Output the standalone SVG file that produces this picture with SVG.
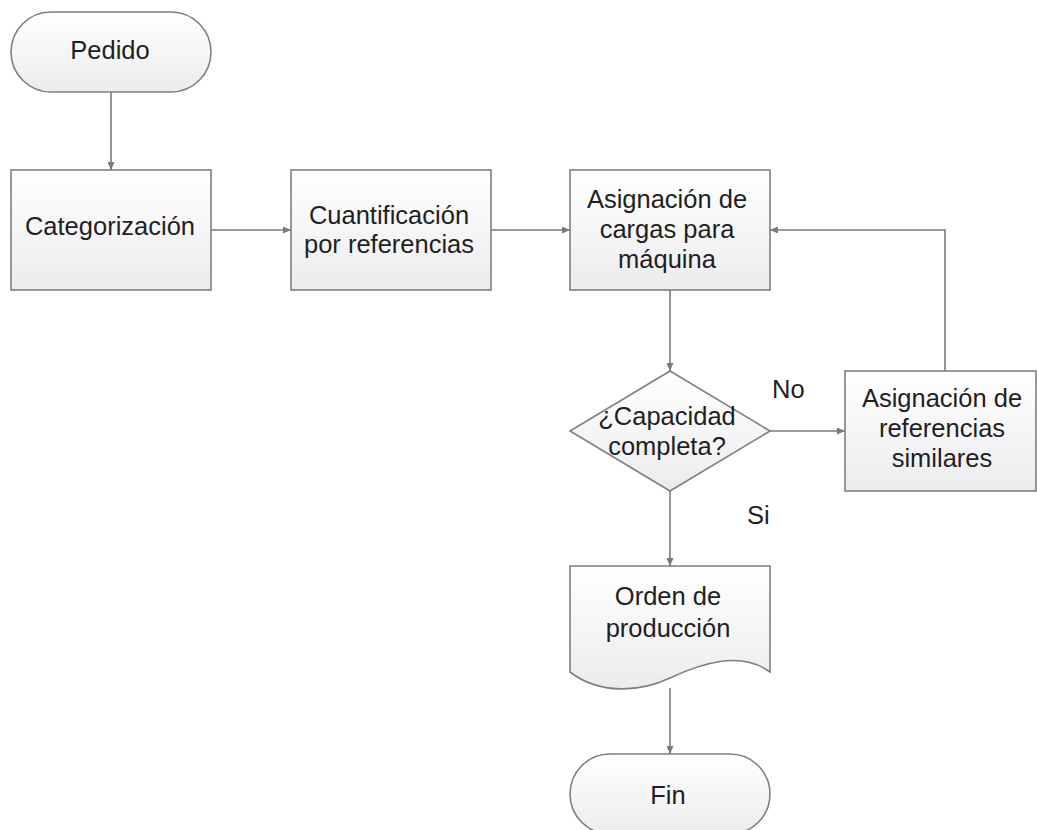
<svg xmlns="http://www.w3.org/2000/svg" width="1037" height="830" viewBox="0 0 1037 830">
  <defs>
    <linearGradient id="fillGrad" x1="0" y1="0" x2="0" y2="1">
      <stop offset="0" stop-color="#ffffff"/>
      <stop offset="1" stop-color="#ececef"/>
    </linearGradient>
    <marker id="arrow" viewBox="0 0 8 7" refX="8" refY="3.5" markerWidth="8" markerHeight="7" markerUnits="userSpaceOnUse" orient="auto">
      <path d="M0,0 L8,3.5 L0,7 Z" fill="#7a7a7a"/>
    </marker>
    <style>
      .shape { fill: url(#fillGrad); stroke: #7f7f7f; stroke-width: 1.6; }
      .label { font-family: "Liberation Sans", Arial, sans-serif; font-size: 25.5px; fill: #1f1f1f; text-anchor: middle; }
      .edge { fill: none; stroke: #7a7a7a; stroke-width: 1.6; marker-end: url(#arrow); }
      .edge-label { font-family: "Liberation Sans", Arial, sans-serif; font-size: 25.5px; fill: #1f1f1f; }
    </style>
  </defs>

  <rect width="1037" height="830" fill="#ffffff"/>

  <!-- connectors -->
  <g id="connectors">
    <path class="edge" d="M111,92 V170"/>
    <path class="edge" d="M211,230 H291"/>
    <path class="edge" d="M491,230 H570"/>
    <path class="edge" d="M670,290 V371"/>
    <path class="edge" d="M770,431 H845"/>
    <path class="edge" d="M945,371 V230 H770"/>
    <path class="edge" d="M670,491 V566"/>
    <path class="edge" d="M670,688 V754"/>
    <text class="edge-label" x="772" y="398">No</text>
    <text class="edge-label" x="747" y="524">Si</text>
  </g>

  <!-- start -->
  <g id="pedido">
    <rect class="shape" x="11" y="12" width="200" height="80" rx="40" ry="40"/>
    <text class="label" x="110" y="59">Pedido</text>
  </g>

  <g id="categorizacion">
    <rect class="shape" x="11" y="170" width="200" height="120"/>
    <text class="label" x="110" y="235">Categorización</text>
  </g>

  <g id="cuantificacion">
    <rect class="shape" x="291" y="170" width="200" height="120"/>
    <text class="label" x="389" y="224">Cuantificación</text>
    <text class="label" x="389" y="253">por referencias</text>
  </g>

  <g id="asignacion-cargas">
    <rect class="shape" x="570" y="170" width="200" height="120"/>
    <text class="label" x="667" y="208">Asignación de</text>
    <text class="label" x="667" y="238">cargas para</text>
    <text class="label" x="667" y="268">máquina</text>
  </g>

  <!-- decision -->
  <g id="capacidad">
    <polygon class="shape" points="670,371 770,431 670,491 570,431"/>
    <text class="label" x="667" y="425">¿Capacidad</text>
    <text class="label" x="667" y="455">completa?</text>
  </g>

  <g id="asignacion-referencias">
    <rect class="shape" x="845" y="371" width="191" height="120"/>
    <text class="label" x="942" y="407">Asignación de</text>
    <text class="label" x="942" y="437">referencias</text>
    <text class="label" x="942" y="467">similares</text>
  </g>

  <!-- document -->
  <g id="orden-produccion">
    <path class="shape" d="M570,566 H770 V672 C740,650 700,664 670,678 C640,692 600,695 570,672 Z"/>
    <text class="label" x="668" y="605">Orden de</text>
    <text class="label" x="668" y="637">producción</text>
  </g>

  <!-- end -->
  <g id="fin">
    <rect class="shape" x="570" y="754" width="200" height="80" rx="40" ry="40"/>
    <text class="label" x="668" y="804">Fin</text>
  </g>
</svg>
